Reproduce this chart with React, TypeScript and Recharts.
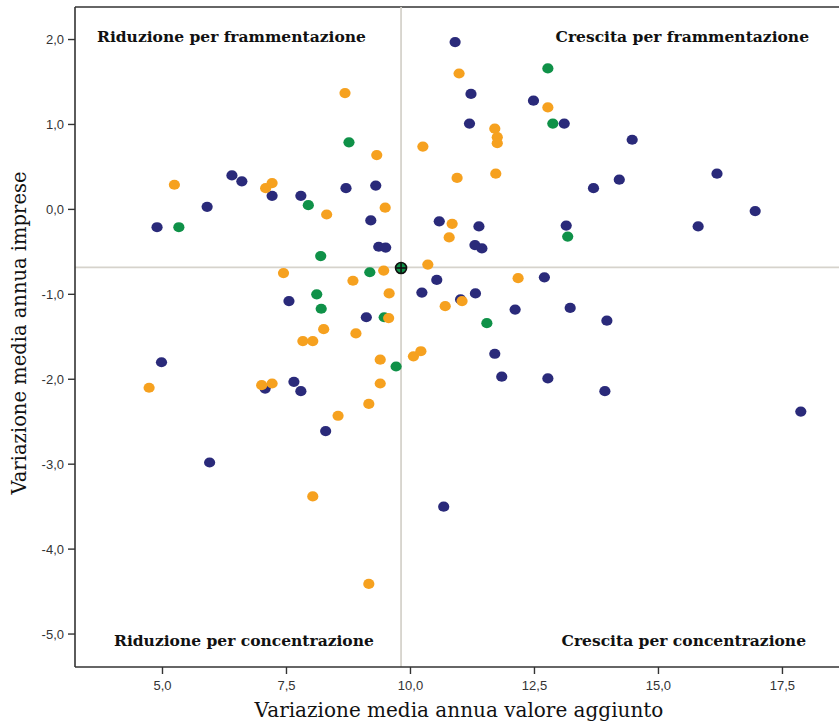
import { ScatterChart, Scatter, XAxis, YAxis, ReferenceLine, Customized } from 'recharts';

// [valore aggiunto, imprese]
const navyPoints: [number, number][] = [
    [10.9, 1.97], [11.22, 1.36], [12.48, 1.28], [11.19, 1.01], [13.1, 1.01],
    [14.47, 0.82], [13.69, 0.25], [14.21, 0.35], [16.18, 0.42], [16.95, -0.02],
    [15.8, -0.2], [10.58, -0.14], [11.38, -0.2], [13.14, -0.19], [11.3, -0.42],
    [11.44, -0.46], [10.53, -0.83], [12.7, -0.8], [10.23, -0.98], [11.31, -0.99],
    [11.01, -1.06], [12.11, -1.18], [13.22, -1.16], [13.96, -1.31], [11.7, -1.7],
    [11.84, -1.97], [12.77, -1.99], [13.92, -2.14], [17.87, -2.38], [10.67, -3.5],
    [6.4, 0.4], [6.6, 0.33], [7.21, 0.16], [7.79, 0.16], [8.7, 0.25],
    [9.3, 0.28], [9.2, -0.13], [9.36, -0.44], [9.5, -0.45], [4.89, -0.21],
    [5.9, 0.03], [7.55, -1.08], [9.11, -1.27], [4.98, -1.8], [7.65, -2.03],
    [7.79, -2.14], [7.07, -2.11], [8.29, -2.61], [5.95, -2.98],
];

const orangePoints: [number, number][] = [
    [8.68, 1.37], [9.32, 0.64], [5.24, 0.29], [7.08, 0.25], [7.21, 0.31],
    [8.31, -0.06], [9.49, 0.02], [7.44, -0.75], [9.46, -0.72], [8.84, -0.84],
    [9.57, -0.99], [9.56, -1.28], [8.25, -1.41], [7.83, -1.55], [8.03, -1.55],
    [8.9, -1.46], [9.39, -1.77], [10.06, -1.73], [10.21, -1.67], [4.73, -2.1],
    [7.0, -2.07], [7.21, -2.05], [9.39, -2.05], [9.16, -2.29], [8.54, -2.43],
    [8.03, -3.38], [9.16, -4.41], [10.98, 1.6], [12.77, 1.2], [11.7, 0.95],
    [11.75, 0.85], [11.75, 0.78], [10.25, 0.74], [10.94, 0.37], [11.72, 0.42],
    [10.84, -0.17], [10.78, -0.33], [10.35, -0.65], [12.17, -0.81], [10.7, -1.14],
    [11.04, -1.08],
];

const greenPoints: [number, number][] = [
    [8.76, 0.79], [7.94, 0.05], [5.33, -0.21], [8.19, -0.55], [9.18, -0.74],
    [8.11, -1.0], [8.2, -1.17], [9.47, -1.27], [9.71, -1.85], [12.77, 1.66],
    [12.87, 1.01], [13.17, -0.32], [11.54, -1.34],
];

const centroid: [number, number][] = [[9.81, -0.69]];

const xTicks = [5, 7.5, 10, 12.5, 15, 17.5];
const yTicks = [-5, -4, -3, -2, -1, 0, 1, 2];
const xDomain: [number, number] = [3.236, 18.64];
const yDomain: [number, number] = [-5.388, 2.383];

const toRows = (pts: [number, number][]) => pts.map(([x, y]) => ({ x, y }));

const NAVY = '#2a2a7a';
const ORANGE = '#f6a11f';
const GREEN = '#0f9148';
const SERIF = '"DejaVu Serif", serif';

const dot = (color: string) => (props: any) => (
    <ellipse cx={props.cx} cy={props.cy} rx={5.6} ry={5.1} fill={color} />
);

const centroidShape = (props: any) => (
    <g>
        <circle cx={props.cx} cy={props.cy} r={5.5} fill={GREEN} stroke="#111" strokeWidth={1.6} />
        <line x1={props.cx - 5} y1={props.cy} x2={props.cx + 5} y2={props.cy} stroke="#111" strokeWidth={1.6} />
        <line x1={props.cx} y1={props.cy - 5} x2={props.cx} y2={props.cy + 5} stroke="#111" strokeWidth={1.6} />
    </g>
);

const fmt = (v: number) => v.toFixed(1).replace('.', ',');

const Labels = () => (
    <g fontFamily={SERIF} fill="#111">
        <text x={97} y={42} fontSize={15.5} fontWeight="bold">Riduzione per frammentazione</text>
        <text x={809} y={42} fontSize={15.5} fontWeight="bold" textAnchor="end">Crescita per frammentazione</text>
        <text x={114} y={646} fontSize={15.5} fontWeight="bold">Riduzione per concentrazione</text>
        <text x={806} y={646} fontSize={15.5} fontWeight="bold" textAnchor="end">Crescita per concentrazione</text>
        <text x={459} y={717} fontSize={20} textAnchor="middle" fill="#111">
            Variazione media annua valore aggiunto
        </text>
        <text x={26} y={333} fontSize={19.5} textAnchor="middle" fill="#111" transform="rotate(-90 26 333)">
            Variazione media annua imprese
        </text>
    </g>
);

export default function App() {
    return (
        <div style={{ position: 'absolute', left: 0, top: 0, width: 839, height: 727, background: '#fff' }}>
            <ScatterChart width={839} height={727} margin={{ top: 7, right: 0, bottom: 0, left: 0 }}>
                <XAxis
                    type="number"
                    dataKey="x"
                    domain={xDomain}
                    ticks={xTicks}
                    tickFormatter={fmt}
                    height={60}
                    allowDataOverflow
                    axisLine={{ stroke: '#333', strokeWidth: 1.6 }}
                    tickLine={{ stroke: '#333', strokeWidth: 1.4 }}
                    tickSize={7}
                    tickMargin={7}
                    tick={{ fontSize: 13, fill: '#333', fontFamily: '"Liberation Sans", Arial, sans-serif' }}
                />
                <YAxis
                    type="number"
                    dataKey="y"
                    domain={yDomain}
                    ticks={yTicks}
                    tickFormatter={fmt}
                    width={75}
                    allowDataOverflow
                    axisLine={{ stroke: '#333', strokeWidth: 1.6 }}
                    tickLine={{ stroke: '#333', strokeWidth: 1.4 }}
                    tickSize={7}
                    tickMargin={4}
                    tick={{ fontSize: 13, fill: '#333', fontFamily: '"Liberation Sans", Arial, sans-serif' }}
                />
                <ReferenceLine y={yDomain[1]} stroke="#333" strokeWidth={1.6} />
                <ReferenceLine x={9.81} stroke="#d6d3cc" strokeWidth={1.8} />
                <ReferenceLine y={-0.683} stroke="#d6d3cc" strokeWidth={1.8} />
                <Scatter data={toRows(greenPoints)} shape={dot(GREEN)} isAnimationActive={false} />
                <Scatter data={toRows(navyPoints)} shape={dot(NAVY)} isAnimationActive={false} />
                <Scatter data={toRows(orangePoints)} shape={dot(ORANGE)} isAnimationActive={false} />
                <Scatter data={toRows(centroid)} shape={centroidShape} isAnimationActive={false} />
                <Customized component={Labels} />
            </ScatterChart>
        </div>
    );
}
